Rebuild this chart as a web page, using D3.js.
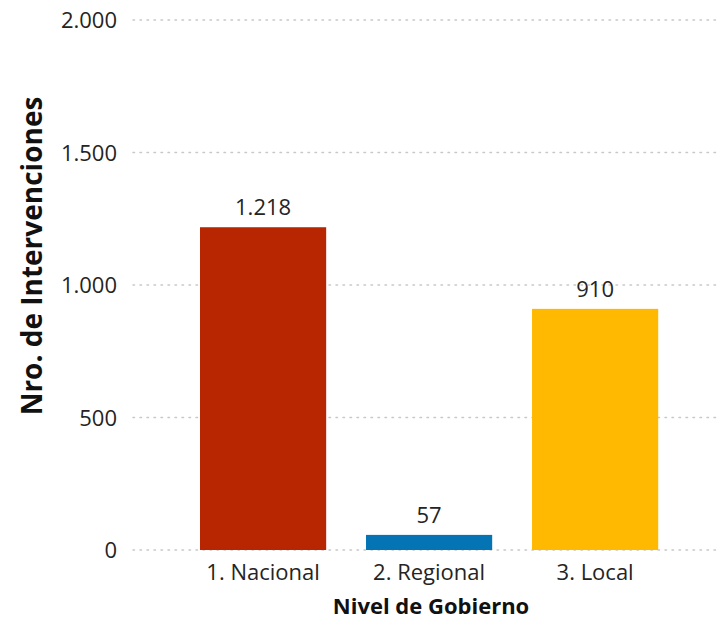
<!DOCTYPE html>
<html><head><meta charset="utf-8">
<script src="https://cdn.jsdelivr.net/npm/d3@7"></script>
<style>body{margin:0;background:#fff;} text{font-family:"Open Sans","Noto Sans",sans-serif;}</style>
</head><body>
<svg id="chart" width="724" height="620"></svg>
<script>
const categories = ["1. Nacional", "2. Regional", "3. Local"];
const values = [1218, 57, 910];
const colors = ["#B82601", "#0474B4", "#FFB900"];
const yTicks = [0, 500, 1000, 1500, 2000];

const loc = d3.formatLocale({decimal: ",", thousands: ".", grouping: [3], currency: ["", ""]});
const fmt = loc.format(",d");

const svg = d3.select("#chart");
const y = d3.scaleLinear().domain([0, 2000]).range([550, 20]);
const x = d3.scaleBand().domain(categories).range([133.6, 724.6]).paddingInner(0.24).paddingOuter(0.4);

const yAxis = d3.axisLeft(y).tickValues(yTicks).tickFormat(fmt).tickSize(0).tickPadding(0);
const gy = svg.append("g").attr("transform", "translate(117,0)").call(yAxis);
gy.select(".domain").remove();
gy.selectAll("text").attr("font-size", 22).attr("fill", "#252423").attr("dx", 0).attr("dy", "0.35em");

svg.append("g").selectAll("line").data(yTicks).join("line")
  .attr("x1", 133).attr("x2", 718)
  .attr("y1", d => y(d)).attr("y2", d => y(d))
  .attr("stroke", "#c8c8c8").attr("stroke-width", 1.5)
  .attr("stroke-dasharray", "1.5,5.5").attr("stroke-linecap", "round");

svg.append("g").selectAll("rect").data(values).join("rect")
  .attr("x", (d, i) => x(categories[i]))
  .attr("width", x.bandwidth())
  .attr("y", d => y(d))
  .attr("height", d => y(0) - y(d))
  .attr("fill", (d, i) => colors[i]);

svg.append("g").selectAll("text").data(values).join("text")
  .attr("x", (d, i) => x(categories[i]) + x.bandwidth() / 2)
  .attr("y", d => y(d) - 12)
  .attr("text-anchor", "middle")
  .attr("font-size", 22).attr("fill", "#252423")
  .text(d => fmt(d));

const xAxis = d3.axisBottom(x).tickSize(0).tickPadding(0);
const gx = svg.append("g").attr("transform", "translate(0,580)").call(xAxis);
gx.select(".domain").remove();
gx.selectAll("text").attr("font-size", 22).attr("fill", "#252423").attr("dy", 0);

svg.append("text").attr("x", 431).attr("y", 614).attr("text-anchor", "middle")
  .attr("font-size", 22).attr("font-weight", "bold").attr("fill", "#111")
  .text("Nivel de Gobierno");
svg.append("text").attr("transform", "translate(42,256) rotate(-90)").attr("text-anchor", "middle")
  .attr("font-size", 28).attr("font-weight", "bold").attr("fill", "#111")
  .text("Nro. de Intervenciones");
</script>
</body></html>
